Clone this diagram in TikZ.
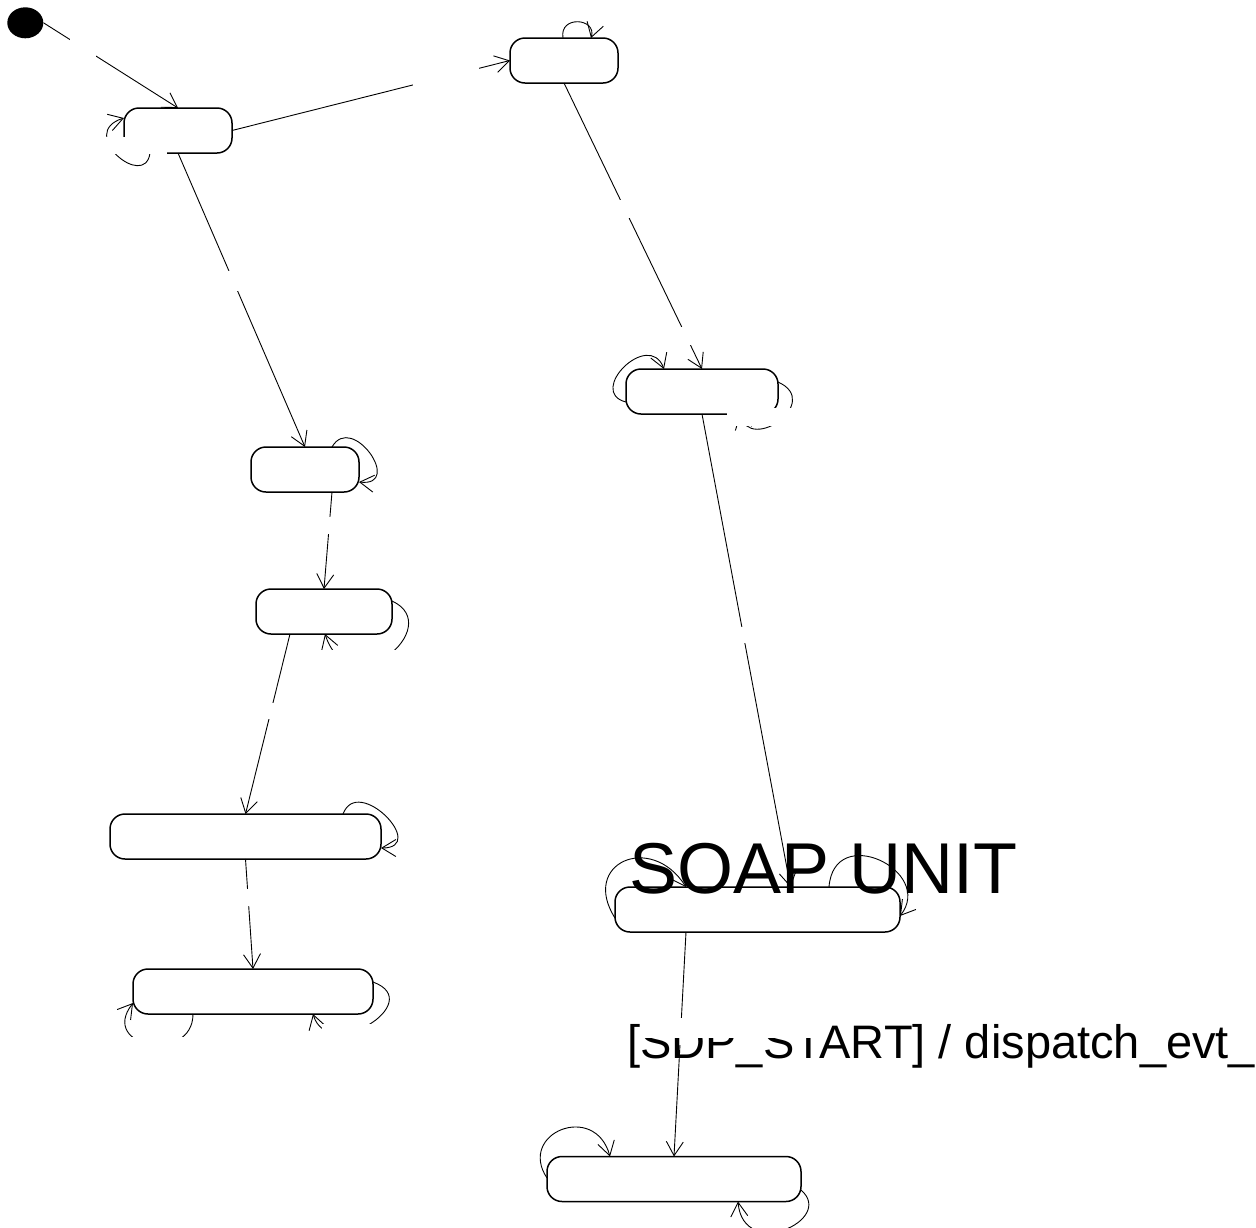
\documentclass[tikz,border=0pt]{standalone}
\usepackage{fontspec}
\setmainfont{Liberation Sans}
\usetikzlibrary{arrows.meta,shapes.geometric}

\begin{document}
\begin{tikzpicture}[x=1pt,y=-1pt,
  state/.style={draw, line width=1.5pt, rounded corners=15pt, minimum height=45pt,
                inner sep=0pt, outer sep=0pt},
  trans/.style={line width=0.9pt, -{Straight Barb[length=14pt,width=17pt]}},
  gap/.style={fill=white}]

\useasboundingbox (0,0) rectangle (1256,1227);
\clip (0,0) rectangle (1256,1227);

% states
\node[ellipse, fill=black, minimum width=36pt, minimum height=31pt, inner sep=0pt] (init) at (25.3,22.8) {};
\node[state, minimum width=108pt] (A) at (178,130.5) {};
\node[state, minimum width=108pt] (B) at (564,60.5) {};
\node[state, minimum width=152pt] (C) at (702,391.5) {};
\node[state, minimum width=108pt] (D) at (305,469.5) {};
\node[state, minimum width=136pt] (E) at (324,611.5) {};
\node[state, minimum width=271pt] (F) at (245.5,836.5) {};
\node[state, minimum width=240pt] (G) at (253,991.5) {};
\node[state, minimum width=285pt] (H) at (757.5,909.5) {};
\node[state, minimum width=254pt] (I) at (674,1179) {};

% transitions between states
\draw[trans] (init.east) -- (A.north);
\draw[trans] (A.east) -- (B.west);
\draw[trans] (A.south) -- (D.north);
\draw[trans] (B.south) -- (C.north);
\draw[trans] ([xshift=27pt]D.south) -- (E.north);
\draw[trans] ([xshift=-34pt]E.south) -- (F.north);
\draw[trans] (F.south) -- (G.north);
\draw[trans] (C.south) -- ([xshift=33pt]H.north);
\draw[trans] ([xshift=-71.5pt]H.south) -- (I.north);

% self transitions
\draw[trans] ([xshift=-28pt]A.south) .. controls +(-5,38) and +(-48,15) .. ([yshift=12.5pt]A.west);
\draw[trans] ([xshift=-1pt]B.north) .. controls +(-4,-23) and +(6,-20) .. ([xshift=27pt]B.north);
\draw[trans] ([yshift=-10.5pt]C.west) .. controls +(-40,-10) and +(-15,-40) .. ([xshift=-38pt]C.north);
\draw[trans] ([yshift=9.5pt]C.east) .. controls +(45,20) and +(10,40) .. ([xshift=38pt]C.south);
\draw[trans] ([xshift=27pt]D.north) .. controls +(20,-35) and +(45,5) .. ([yshift=-12.5pt]D.east);
\draw[trans] ([yshift=10.5pt]E.east) .. controls +(55,25) and +(25,75) .. ([xshift=1pt]E.south);
\draw[trans] ([xshift=97.5pt]F.north) .. controls +(15,-40) and +(48,0) .. ([yshift=-11.5pt]F.east);
\draw[trans] ([xshift=-60pt]G.south) .. controls +(0,50) and +(-35,45) .. ([yshift=-11.5pt]G.west);
\draw[trans] ([yshift=9.5pt]G.east) .. controls +(55,20) and +(15,50) .. ([xshift=60pt]G.south);
\draw[trans] ([yshift=-8.5pt]H.west) .. controls +(-35,-55) and +(-35,-55) .. ([xshift=-71.5pt]H.north);
\draw[trans] ([xshift=71.5pt]H.north) .. controls +(5,-65) and +(35,-45) .. ([yshift=-6.5pt]H.east);
\draw[trans] ([yshift=1pt]I.west) .. controls +(-30,-45) and +(-15,-55) .. ([xshift=-64pt]I.north);
\draw[trans] ([yshift=-11pt]I.east) .. controls +(35,30) and +(5,60) .. ([xshift=64pt]I.south);

% empty label backgrounds on the transitions
\fill[gap] (69.5,35) rectangle (95.5,58);
\fill[gap] (413,60) rectangle (479,92);
\fill[gap] (220,271) rectangle (246,291);
\fill[gap] (610,200) rectangle (640,218);
\fill[gap] (672,327) rectangle (700,345);
\fill[gap] (732,627) rectangle (756,643);
\fill[gap] (318,517) rectangle (342,534);
\fill[gap] (258,703) rectangle (284,719);
\fill[gap] (236,889) rectangle (260,906);
\fill[gap] (670,1020) rectangle (692,1045);
\fill[gap] (103,137) rectangle (167,154);
\fill[gap] (727,408) rectangle (800,426);
\fill[gap] (318,650) rectangle (415,700);
\fill[gap] (115,1037) rectangle (200,1080);
\fill[gap] (322,1024) rectangle (400,1075);

% labels
\node[anchor=base west, inner sep=0pt, font=\fontsize{72}{72}\selectfont] (soap) at (629,893) {SOAP UNIT};
\node[anchor=base west, inner sep=0pt, font=\fontsize{47}{47}\selectfont] (guard) at (627,1058) {[SDP\_START] / dispatch\_evt\_};
\fill[gap] (641,1018) rectangle (823,1038);

\end{tikzpicture}
\end{document}
